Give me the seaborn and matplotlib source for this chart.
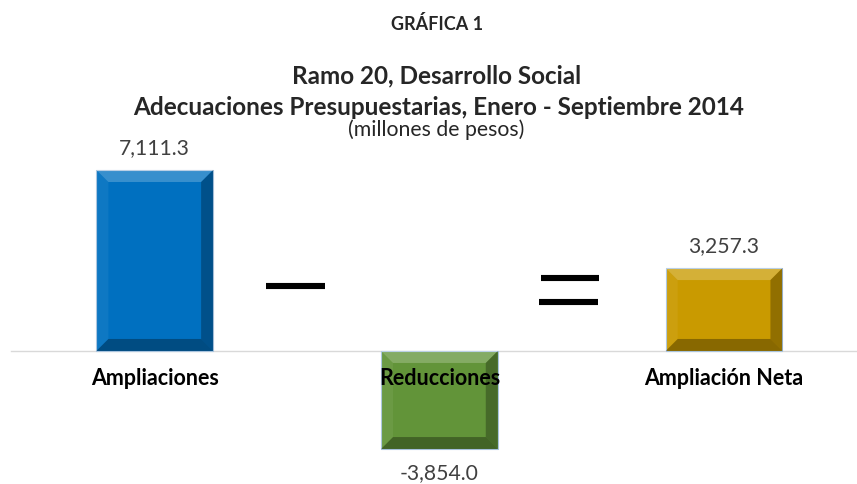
import matplotlib
matplotlib.use("Agg")
import seaborn as sns
import matplotlib.pyplot as plt
from matplotlib.patches import Polygon
from matplotlib.lines import Line2D

categorias = ["Ampliaciones", "Reducciones", "Ampliación Neta"]
valores = [7111.3, -3854.0, 3257.3]
etiquetas = ["7,111.3", "-3,854.0", "3,257.3"]
colores = ["#0070C0", "#629439", "#C99A00"]

sns.set_theme(style="white")
plt.rcParams['font.family'] = ['Lato', 'DejaVu Sans']

W, H = 857, 484
fig = plt.figure(figsize=(W / 100, H / 100), dpi=100)
ax = fig.add_axes([11 / W, 1 - 460.4 / H, 1 - 11 / W, (460.4 - 160.1) / H])

sns.barplot(x=categorias, y=valores, hue=categorias, palette=colores,
            legend=False, width=0.41, saturation=1, ax=ax)
ax.set_xlim(-0.505, 2.467)
ax.set_ylim(-4300, 7500)
ax.set_axisbelow(False)

# bevel effect on every bar
px_x = 1 / 285.0
px_y = 39.29
bx, by = 12 * px_x, 12 * px_y
for p in ax.patches:
    p.set_edgecolor("#A9C4DE")
    p.set_linewidth(0.8)
    x0 = p.get_x()
    x1 = x0 + p.get_width()
    yb = min(p.get_y(), p.get_y() + p.get_height())
    yt = max(p.get_y(), p.get_y() + p.get_height())
    caras = [
        ([(x0, yt), (x1, yt), (x1 - bx, yt - by), (x0 + bx, yt - by)], "white", 0.22),
        ([(x0, yb), (x0, yt), (x0 + bx, yt - by), (x0 + bx, yb + by)], "white", 0.06),
        ([(x1, yb), (x1, yt), (x1 - bx, yt - by), (x1 - bx, yb + by)], "black", 0.28),
        ([(x0, yb), (x1, yb), (x1 - bx, yb + by), (x0 + bx, yb + by)], "black", 0.32),
    ]
    for pts, c, a in caras:
        ax.add_patch(Polygon(pts, closed=True, facecolor=c, alpha=a,
                             edgecolor="none", zorder=p.get_zorder() + 0.1))

# value labels
for p, v, t in zip(ax.patches[:3], valores, etiquetas):
    cx = p.get_x() + p.get_width() / 2
    if v >= 0:
        ax.annotate(t, (cx, v), xytext=(0, 11.5), textcoords="offset points",
                    ha="center", va="baseline", fontsize=15.2, color="#404040")
    else:
        ax.annotate(t, (cx, v), xytext=(0, -10), textcoords="offset points",
                    ha="center", va="top", fontsize=15.2, color="#404040")

# axis at zero with category labels
for s in ["left", "right", "top"]:
    ax.spines[s].set_visible(False)
ax.spines["bottom"].set_position(("data", 0))
ax.spines["bottom"].set_color("#D9D9D9")
ax.spines["bottom"].set_linewidth(1)
ax.spines["bottom"].set_zorder(0.5)
ax.set_yticks([])
ax.tick_params(axis="x", length=0, pad=12, labelsize=15.5)
for lbl in ax.get_xticklabels():
    lbl.set_fontweight("bold")
    lbl.set_color("black")
ax.set_xlabel("")
ax.set_ylabel("")

# minus and equals signs
def barra(x0, x1, y):
    fig.add_artist(Line2D([x0 / W, x1 / W], [1 - y / H, 1 - y / H],
                          color="black", lw=4.4, solid_capstyle="butt"))

barra(266, 325, 286)
barra(541, 599, 278)
barra(539, 598, 301.5)

# titles
fig.text(437 / W, 1 - 30 / H, "GRÁFICA 1", ha="center", va="baseline",
         fontsize=13, fontweight="bold")
fig.text(437 / W, 1 - 83 / H, "Ramo 20, Desarrollo Social", ha="center",
         va="baseline", fontsize=17.5, fontweight="bold")
fig.text(439 / W, 1 - 115 / H, "Adecuaciones Presupuestarias, Enero - Septiembre 2014",
         ha="center", va="baseline", fontsize=17.5, fontweight="bold")
fig.text(436 / W, 1 - 136 / H, "(millones de pesos)", ha="center", va="baseline",
         fontsize=15.3, color="#262626")

plt.savefig("out.png", dpi=100)
